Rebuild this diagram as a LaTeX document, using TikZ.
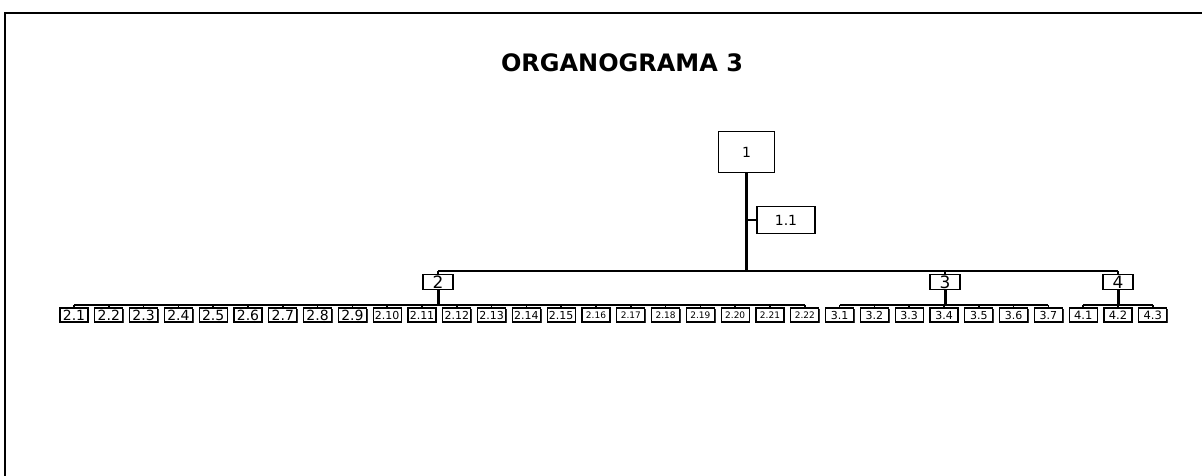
\documentclass[tikz,border=0pt]{standalone}
\usepackage{fontspec}
\setmainfont{DejaVu Sans}
\usetikzlibrary{shadows}
\begin{document}
\begin{tikzpicture}[x=1pt,y=-1pt,
  topbox/.style={draw, line width=1.2pt, fill=white, inner sep=0pt},
  midbox/.style={draw, line width=1.8pt, fill=white, inner sep=0pt, minimum width=30pt, minimum height=15pt, font=\fontsize{17}{17}\selectfont},
  leaf/.style={draw, line width=1.1pt, fill=white, inner sep=0pt, minimum width=28pt, minimum height=14pt,
    drop shadow={shadow xshift=1.2pt, shadow yshift=-1.2pt, fill=black!80, opacity=1}},
  trunk/.style={line width=3pt},
  bar/.style={line width=2.5pt},
  tick/.style={line width=1.5pt}]
\useasboundingbox (0,0) rectangle (1202,476);
\draw[line width=2pt] (5,476) -- (5,13) -- (1202,13);
\node[font=\bfseries\fontsize{24}{24}\selectfont] (title) at (622,63) {ORGANOGRAMA 3};
\node[topbox, minimum width=56pt, minimum height=41pt, font=\fontsize{14}{14}\selectfont] (n1) at (746.5,152) {1};
\node[topbox, minimum width=58pt, minimum height=27pt, font=\fontsize{14}{14}\selectfont] (n11) at (786,220) {1.1};
\node[midbox] (n2) at (438,282) {2};
\node[midbox] (n3) at (945,282) {3};
\node[midbox] (n4) at (1118,282) {4};
\coordinate (j1) at (746.5,271);
\draw[trunk] (n1.south) -- (j1);
\draw[tick] (n1.south |- n11.west) -- (n11.west);
\draw[bar] (n2.north |- j1) -- (n4.north |- j1);
\foreach \n in {n2,n3,n4} \draw[tick] (\n.north |- j1) -- (\n.north);
\foreach \lab/\fs [count=\i from 0] in {2.1/14,2.2/14,2.3/14,2.4/14,2.5/14,2.6/14,2.7/14,2.8/14,2.9/14,
  2.10/11,2.11/11,2.12/11,2.13/11,2.14/11,2.15/11,
  2.16/9,2.17/9,2.18/9,2.19/9,2.20/9,2.21/9,2.22/9,
  3.1/11,3.2/11,3.3/11,3.4/11,3.5/11,3.6/11,3.7/11,
  4.1/11.5,4.2/11.5,4.3/11.5}
  \node[leaf, font=\fontsize{\fs}{\fs}\selectfont] (c\i) at ({74+\i*34.8},315) {\lab};
\coordinate (b2) at (438,305);
\coordinate (b3) at (945,305);
\coordinate (b4) at (1118,305);
\draw[trunk] (n2.south) -- (b2);
\draw[trunk] (n3.south) -- (b3);
\draw[trunk] (n4.south) -- (b4);
\draw[bar] (c0.north |- b2) -- (c21.north |- b2);
\draw[bar] (c22.north |- b3) -- (c28.north |- b3);
\draw[bar] (c29.north |- b4) -- (c31.north |- b4);
\foreach \i in {0,...,21} \draw[tick] (c\i.north |- b2) -- (c\i.north);
\foreach \i in {22,...,28} \draw[tick] (c\i.north |- b3) -- (c\i.north);
\foreach \i in {29,30,31} \draw[tick] (c\i.north |- b4) -- (c\i.north);
\end{tikzpicture}
\end{document}
